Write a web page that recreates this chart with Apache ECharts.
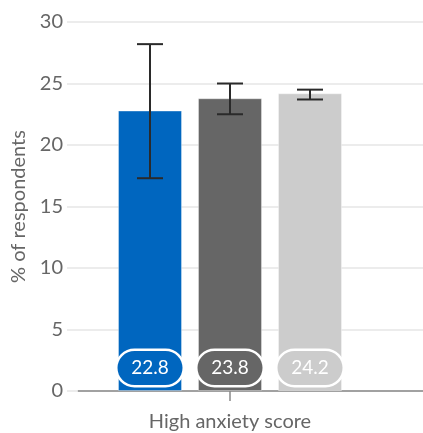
<!DOCTYPE html>
<html>
<head>
<meta charset="utf-8">
<script src="https://cdn.jsdelivr.net/npm/echarts@6/dist/echarts.min.js"></script>
<style>
html,body{margin:0;padding:0;background:#fff;}
#chart{width:423px;height:433px;}
</style>
</head>
<body>
<div id="chart"></div>
<script>
// Data
const categories = ['High anxiety score'];
const seriesNames = ['Group A', 'Group B', 'Group C'];
const values = [22.8, 23.8, 24.2];
const errLow = [17.3, 22.5, 23.7];
const errHigh = [28.2, 25.0, 24.5];
const yTicks = [0, 5, 10, 15, 20, 25, 30];

// Styles
const colors = ['#0066bf', '#666666', '#cccccc'];
const FONT = 'Lato, "Open Sans", sans-serif';
const BAR_W = 64;
const BAR_GAP = 16;
const AXIS_GREY = '#666666';

const chart = echarts.init(document.getElementById('chart'), null, {renderer: 'canvas'});

const barSeries = values.map((v, i) => ({
  name: seriesNames[i],
  type: 'bar',
  xAxisIndex: 0,
  yAxisIndex: 0,
  barWidth: BAR_W,
  barGap: (BAR_GAP / BAR_W * 100) + '%',
  data: [v],
  itemStyle: {color: colors[i], borderColor: 'rgba(255,255,255,0.35)', borderWidth: 1},
  z: 2,
  label: {
    show: true,
    position: 'insideBottom',
    distance: 6,
    formatter: (p) => p.value.toFixed(1),
    color: '#fff',
    fontFamily: FONT,
    fontSize: 19,
    backgroundColor: colors[i],
    borderColor: '#fff',
    borderWidth: 2.5,
    borderRadius: 18,
    width: 65,
    height: 34,
    lineHeight: 34,
    align: 'center',
    padding: 0
  }
}));

const errorData = values.map((v, i) => [0, errLow[i], errHigh[i], i]);

const errorSeries = {
  type: 'custom',
  xAxisIndex: 0,
  yAxisIndex: 0,
  z: 5,
  data: errorData,
  encode: {x: 0, y: [1, 2]},
  renderItem: function (params, api) {
    const idx = api.value(3);
    const off = (idx - 1) * (BAR_W + BAR_GAP);
    const lo = api.coord([api.value(0), api.value(1)]);
    const hi = api.coord([api.value(0), api.value(2)]);
    const x = lo[0] + off;
    const cap = 13;
    const style = {stroke: '#2a2a2a', lineWidth: 2};
    return {
      type: 'group',
      children: [
        {type: 'line', shape: {x1: x, y1: hi[1], x2: x, y2: lo[1]}, style},
        {type: 'line', shape: {x1: x - cap, y1: hi[1], x2: x + cap, y2: hi[1]}, style},
        {type: 'line', shape: {x1: x - cap, y1: lo[1], x2: x + cap, y2: lo[1]}, style}
      ]
    };
  }
};

const option = {
  animation: false,
  backgroundColor: '#fff',
  grid: [
    {left: 78, right: 41, top: 22, bottom: 42},
    {left: 78, right: 0, top: 22, bottom: 42}
  ],
  xAxis: [
    {
      type: 'category',
      gridIndex: 0,
      data: categories,
      axisLine: {show: false},
      axisTick: {show: true, alignWithLabel: true, length: 10, lineStyle: {color: '#888', width: 1.5}},
      axisLabel: {color: AXIS_GREY, fontFamily: FONT, fontSize: 20, margin: 21}
    },
    {
      type: 'category',
      gridIndex: 1,
      data: [''],
      axisLine: {show: true, lineStyle: {color: '#888', width: 1.5}},
      axisTick: {show: false},
      axisLabel: {show: false}
    }
  ],
  yAxis: [
    {type: 'value', gridIndex: 0, min: 0, max: 30, interval: 5, show: false, splitLine: {show: false}},
    {
      type: 'value',
      gridIndex: 1,
      min: yTicks[0],
      max: yTicks[yTicks.length - 1],
      interval: yTicks[1] - yTicks[0],
      name: '% of respondents',
      nameLocation: 'middle',
      nameGap: 49,
      nameTextStyle: {color: AXIS_GREY, fontFamily: FONT, fontSize: 20},
      axisLine: {show: false},
      axisTick: {show: true, length: 11, lineStyle: {color: '#e6e6e6', width: 1.5}},
      axisLabel: {color: AXIS_GREY, fontFamily: FONT, fontSize: 20, margin: 15},
      splitLine: {show: true, lineStyle: {color: '#e6e6e6', width: 1.5}}
    }
  ],
  series: [...barSeries, errorSeries]
};

chart.setOption(option);
</script>
</body>
</html>
